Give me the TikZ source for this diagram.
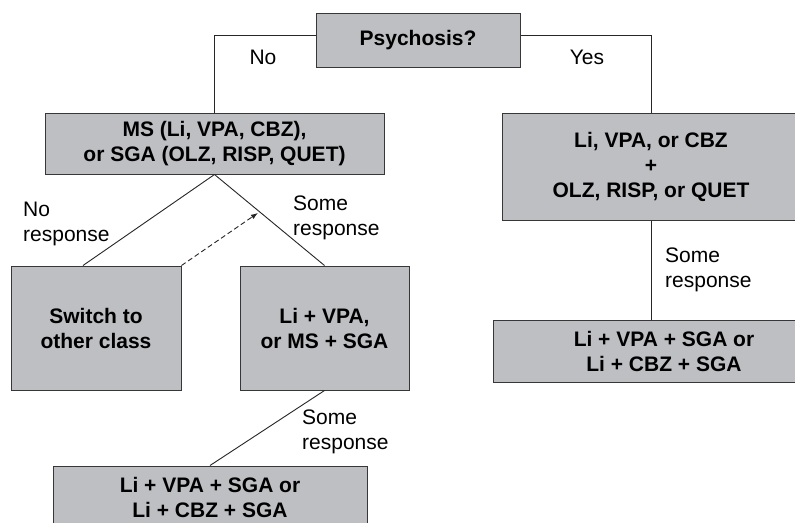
\documentclass[tikz,border=0pt]{standalone}
\usepackage{fontspec}
\setmainfont{Liberation Sans}
\usetikzlibrary{arrows.meta,calc}
\definecolor{boxfill}{RGB}{190,191,195}
\definecolor{boxline}{RGB}{55,55,55}
\begin{document}
\begin{tikzpicture}[x=1pt,y=-1pt,
  every node/.style={font=\fontsize{21}{25}\selectfont},
  box/.style={draw=boxline,fill=boxfill,line width=1pt,align=center,
    font=\fontsize{21}{25}\selectfont\bfseries,inner sep=0pt},
  lbl/.style={align=left,inner sep=0pt,anchor=north west},
  conn/.style={draw=black!85,line width=0.9pt}]
\useasboundingbox (0,0) rectangle (795,522);
\clip (0,0) rectangle (795,522);
\fill[white] (0,0) rectangle (795,522);
% boxes
\node[box,minimum width=204pt,minimum height=54pt] (psy) at (418,40) {Psychosis?};
\node[box,minimum width=339pt,minimum height=61pt] (ms) at (214.5,143.5) {MS (Li, VPA, CBZ),\\or SGA (OLZ, RISP, QUET)};
\node[box,minimum width=298pt,minimum height=107pt] (rt) at (651,166.5) {Li, VPA, or CBZ\\+\\OLZ, RISP, or QUET};
\node[box,minimum width=170pt,minimum height=124pt] (sw) at (96,328) {Switch to\\other class};
\node[box,minimum width=169pt,minimum height=124pt] (lv) at (324.5,328) {Li + VPA,\\or MS + SGA};
\node[box,minimum width=314pt,minimum height=62pt] (bl) at (210,497) {Li + VPA + SGA or\\Li + CBZ + SGA};
\node[box,minimum width=342pt,minimum height=62pt] (br) at (664,351) {Li + VPA + SGA or\\Li + CBZ + SGA};
% connectors
\draw[conn] ([yshift=5pt]psy.west) -| (ms.north);
\draw[conn] ([yshift=5pt]psy.east) -| (rt.north);
\draw[conn] (ms.south) -- ([xshift=-13pt]sw.north);
\draw[conn] (ms.south) -- (lv.north);
\coordinate (dtip) at ($(ms.south)!0.41!(lv.north)$);
\draw[conn,dashed,dash pattern=on 5pt off 3pt,-{Latex[length=7pt,width=5pt]},shorten >=2pt] (sw.north east) -- (dtip);
\draw[conn] (lv.south) -- (bl.north);
\draw[conn] (rt.south) -- (rt.south |- br.north);
% labels
\node (no) at (263,57) {No};
\node (yes) at (587,57) {Yes};
\node[lbl] (nr) at (23,201.5) {No\\response};
\node[lbl] (sr1) at (293,195.5) {Some\\response};
\node[lbl] (sr2) at (665,247.5) {Some\\response};
\node[lbl] (sr3) at (302,409.5) {Some\\response};
\end{tikzpicture}
\end{document}
